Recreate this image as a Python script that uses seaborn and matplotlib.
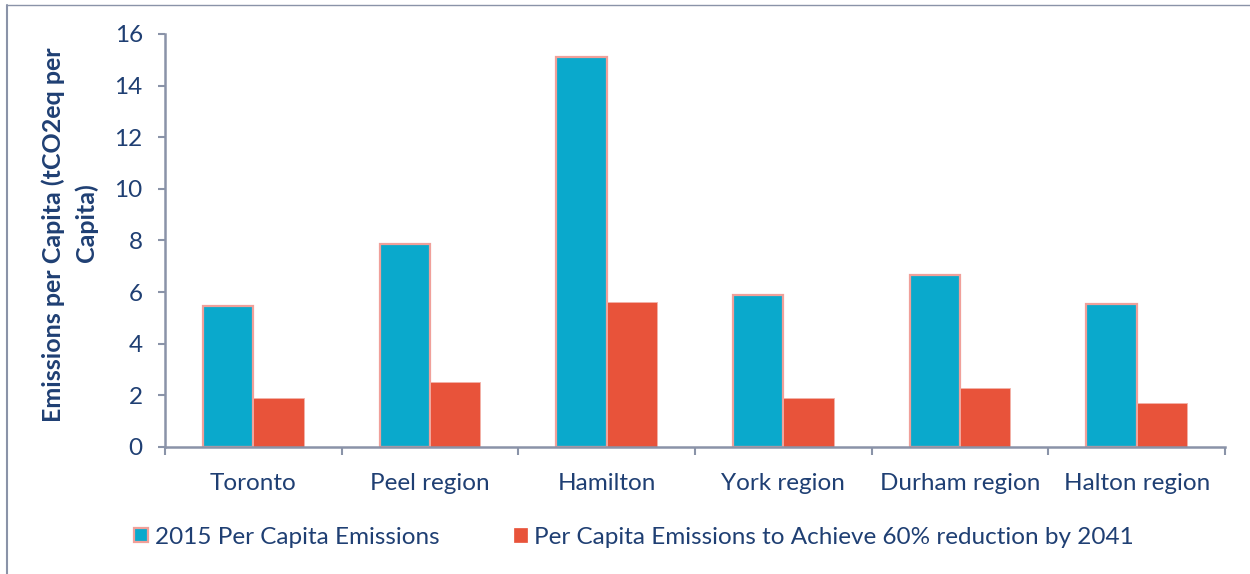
import matplotlib
matplotlib.use("Agg")
import matplotlib.pyplot as plt
from matplotlib.lines import Line2D
from matplotlib.patches import Patch
import numpy as np
import pandas as pd
import seaborn as sns

regions = ["Toronto", "Peel region", "Hamilton", "York region", "Durham region", "Halton region"]
emissions_2015 = [5.45, 7.85, 15.1, 5.87, 6.67, 5.55]
target_2041 = [1.9, 2.5, 5.6, 1.9, 2.3, 1.7]
series_names = ["2015 Per Capita Emissions",
                "Per Capita Emissions to Achieve 60% reduction by 2041"]
y_ticks = [0, 2, 4, 6, 8, 10, 12, 14, 16]
y_label_lines = ["Emissions per Capita (tCO2eq per", "Capita)"]

BLUE = "#0AA9CC"
RED = "#E8533A"
PINK_EDGE = "#F0A09A"
TEXT = "#1F3F73"
AXIS = "#8A93A8"

sns.set_theme(style="white")
plt.rcParams["font.family"] = ["Lato", "DejaVu Sans"]

df = pd.DataFrame({
    "region": regions * 2,
    "value": emissions_2015 + target_2041,
    "series": [series_names[0]] * len(regions) + [series_names[1]] * len(regions),
})

fig = plt.figure(figsize=(12.5, 5.74), dpi=100)
ax = fig.add_axes([0.132, 0.2213, 0.848, 0.7195])

sns.barplot(data=df, x="region", y="value", hue="series",
            palette=[BLUE, RED], width=0.57, gap=0, ax=ax,
            legend=False, saturation=1)

# Outline only the 2015 bars with a soft pink edge
n = len(regions)
for i, bar in enumerate(ax.patches):
    if i < n:
        bar.set_edgecolor(PINK_EDGE)
        bar.set_linewidth(1.6)
    else:
        bar.set_edgecolor("#F2B2A8")
        bar.set_linewidth(0.6)

ax.set_ylim(0, 16)
ax.set_xlim(-0.5, n - 0.5)
ax.set_yticks(y_ticks)
ax.set_yticklabels([str(t) for t in y_ticks], color=TEXT, fontsize=17.5)
ax.set_xticks(range(n))
ax.set_xticklabels(regions, color=TEXT, fontsize=17.5)
ax.set_xticks(np.arange(-0.5, n, 1.0), minor=True)
ax.tick_params(axis="x", which="major", length=0, pad=19)
ax.tick_params(axis="x", which="minor", length=6, width=1.5, color=AXIS, direction="out")
ax.tick_params(axis="y", which="major", length=5, width=1.5, color=AXIS, direction="out", pad=11)
ax.tick_params(left=True, bottom=True, which="both")

for side in ["top", "right"]:
    ax.spines[side].set_visible(False)
for side in ["left", "bottom"]:
    ax.spines[side].set_color(AXIS)
    ax.spines[side].set_linewidth(1.8)

ax.set_xlabel("")
ax.set_ylabel("")

# Two-line rotated axis title, each line placed on its own
for text, x_px, y_px in zip(y_label_lines, [53, 86], [235, 223]):
    fig.text(x_px / 1250, 1 - y_px / 574, text, rotation=90, ha="center", va="center",
             color=TEXT, fontsize=18, fontweight="bold")

handles = [Patch(facecolor=BLUE, edgecolor=PINK_EDGE, linewidth=1.6),
           Patch(facecolor=RED, edgecolor=RED, linewidth=0.5)]
leg = fig.legend(handles, series_names, loc="center left", ncol=2,
                 bbox_to_anchor=(0.090, 0.064), frameon=False,
                 fontsize=17.5, handlelength=0.55, handleheight=0.55,
                 handletextpad=0.3, columnspacing=3.05)
for t in leg.get_texts():
    t.set_color(TEXT)

# Thin frame lines along the top and left of the figure
fig.add_artist(Line2D([7 / 1250, 7 / 1250], [0, 1 - 5 / 574], color=AXIS, lw=1.5,
                      transform=fig.transFigure))
fig.add_artist(Line2D([7 / 1250, 1], [1 - 5 / 574, 1 - 5 / 574], color=AXIS, lw=1.0,
                      transform=fig.transFigure))

fig.savefig("out.png", dpi=100)
